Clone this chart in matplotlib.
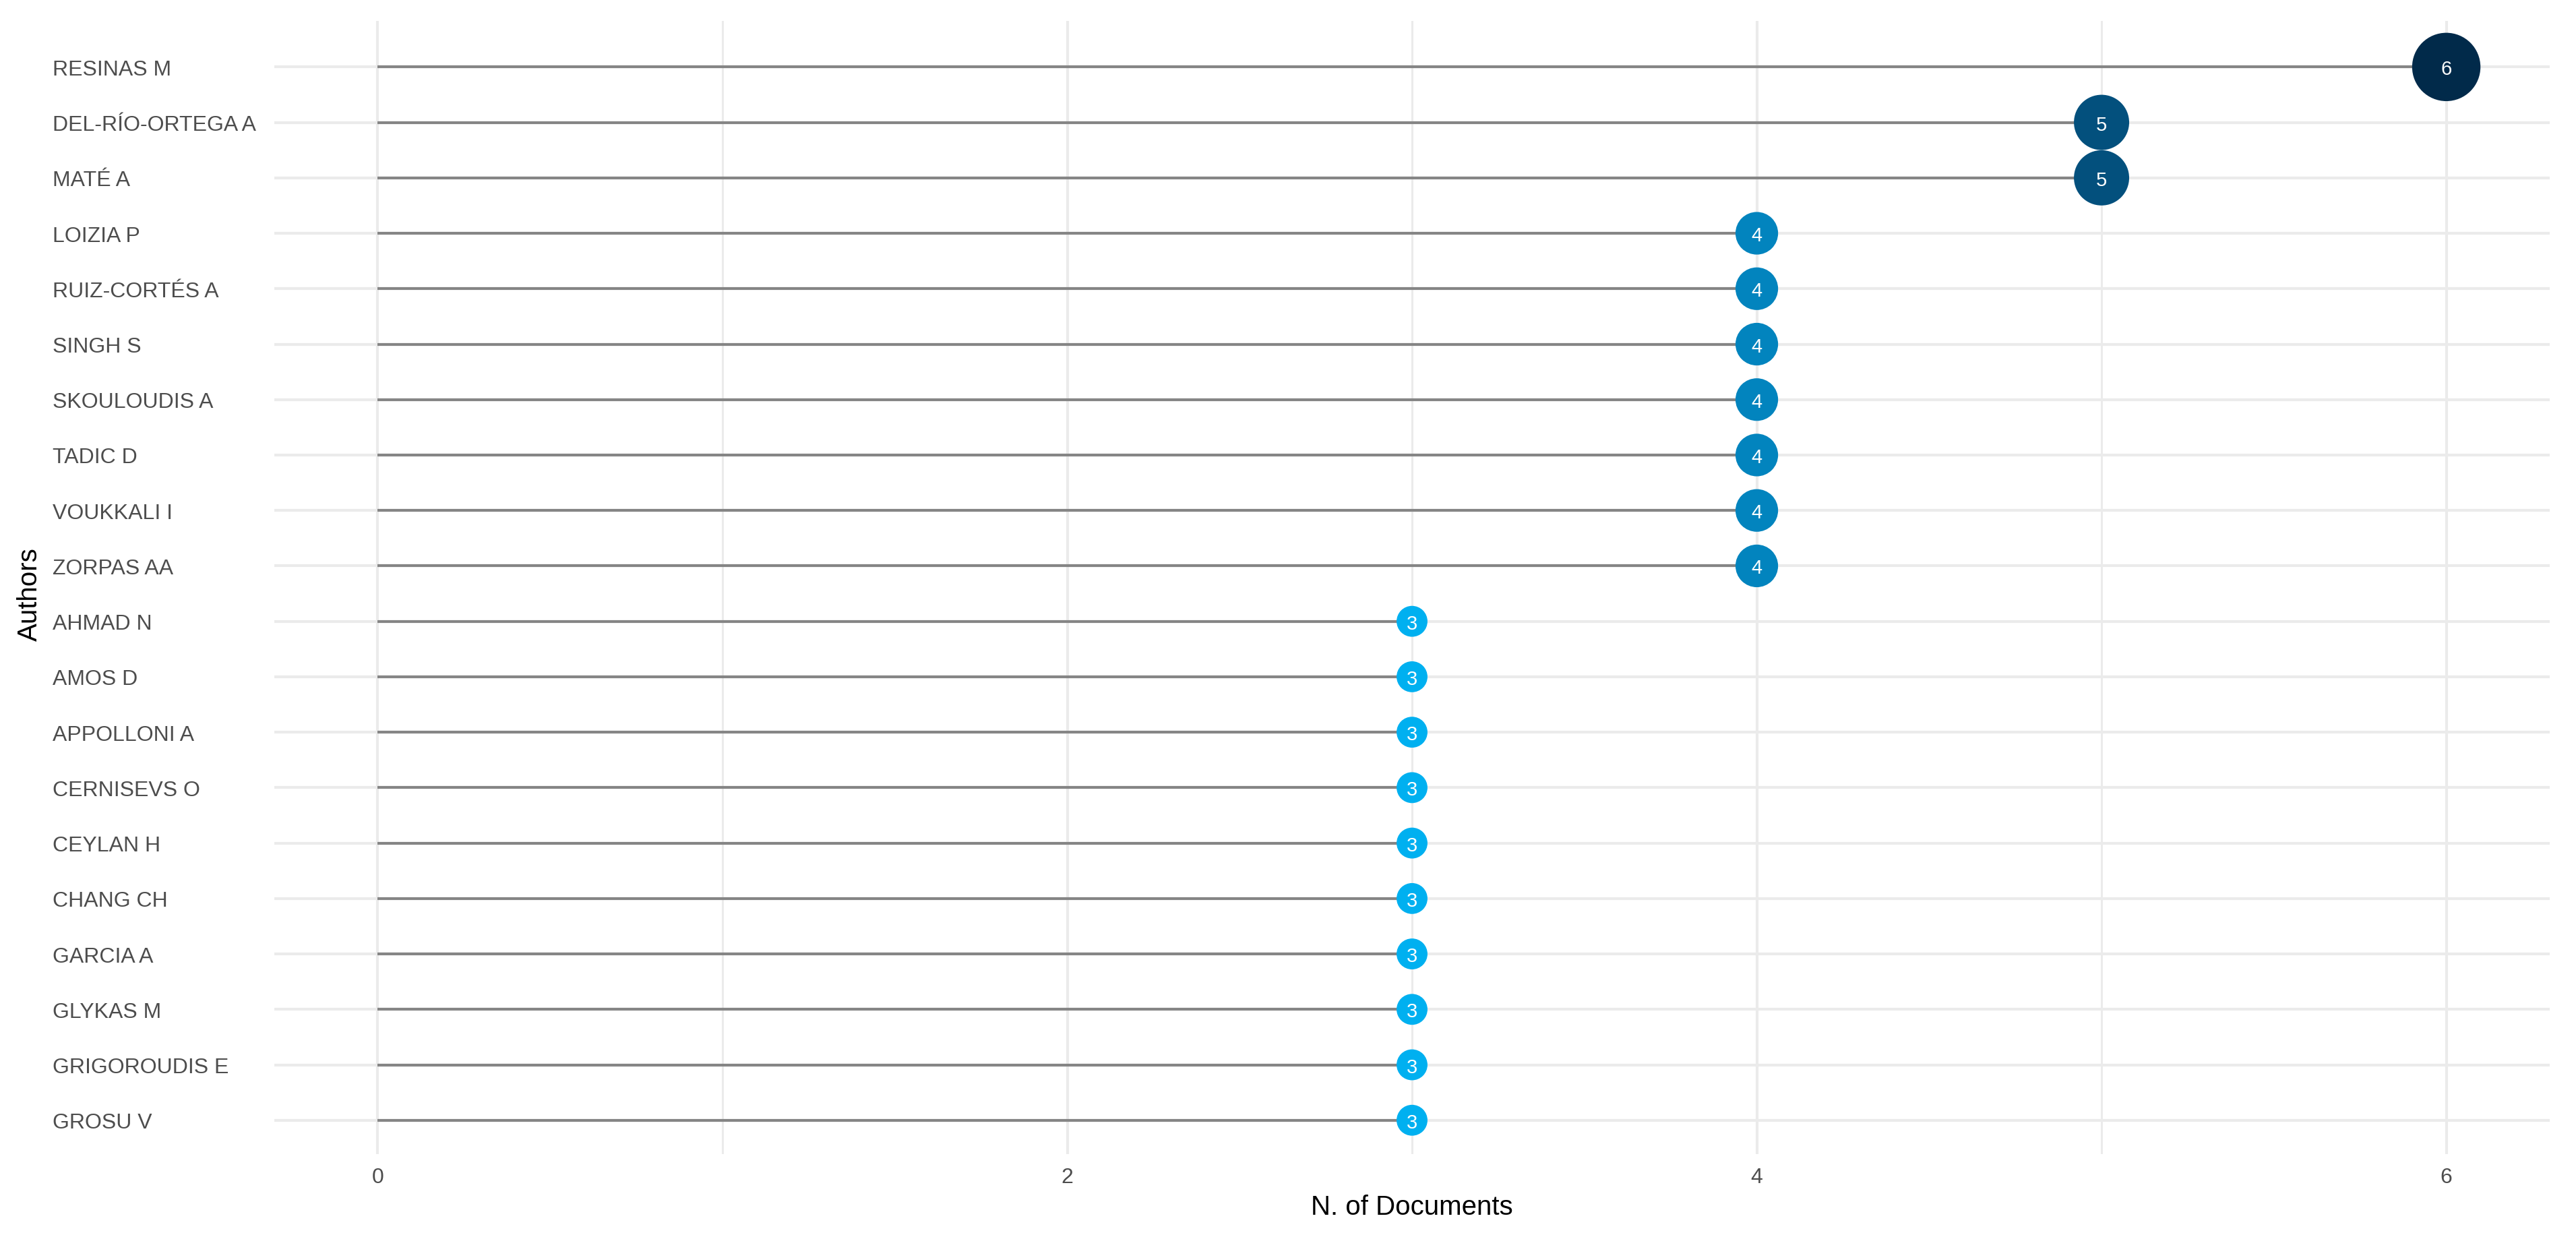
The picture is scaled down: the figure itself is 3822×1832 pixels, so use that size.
import numpy as np
import matplotlib
matplotlib.use("Agg")
import matplotlib.pyplot as plt

# top to bottom as in the reference
authors = ["RESINAS M", "DEL-RÍO-ORTEGA A", "MATÉ A", "LOIZIA P", "RUIZ-CORTÉS A",
           "SINGH S", "SKOULOUDIS A", "TADIC D", "VOUKKALI I", "ZORPAS AA",
           "AHMAD N", "AMOS D", "APPOLLONI A", "CERNISEVS O", "CEYLAN H",
           "CHANG CH", "GARCIA A", "GLYKAS M", "GRIGOROUDIS E", "GROSU V"]
n_docs = [6, 5, 5, 4, 4, 4, 4, 4, 4, 4, 3, 3, 3, 3, 3, 3, 3, 3, 3, 3]
x_ticks = [0, 2, 4, 6]

COLORS = {3: "#00b0f0", 4: "#0284be", 5: "#03507d", 6: "#012a4a"}
DIAM_PT = {3: 33, 4: 45.5, 5: 59, 6: 73}

plt.rcParams["font.family"] = ["Liberation Sans", "DejaVu Sans"]

fig = plt.figure(figsize=(38.22, 18.33), dpi=100)
ax = fig.add_axes([0.1065, 0.0655, 0.8833, 0.917])

y = np.arange(len(authors))
vals = np.array(n_docs)

# grid
grid_c = "#ebebeb"
for t in x_ticks:
    ax.axvline(t, color=grid_c, lw=3.0, zorder=0)
for t in [1, 3, 5]:
    ax.axvline(t, color=grid_c, lw=2.2, zorder=0)
for yy in y:
    ax.axhline(yy, color=grid_c, lw=3.0, zorder=0)

ax.hlines(y, 0, vals, color="#858585", lw=3.0, zorder=1)
sizes = [DIAM_PT[v] ** 2 for v in n_docs]
cols = [COLORS[v] for v in n_docs]
ax.scatter(vals, y, s=sizes, c=cols, edgecolors="none", zorder=2)
for v, yy in zip(vals, y):
    ax.text(v, yy, str(v), color="white", fontsize=21, ha="center",
            va="center_baseline", zorder=3)

ax.set_xlim(-0.3, 6.3)
ax.set_ylim(19.61, -0.83)
ax.set_xticks(x_ticks)
ax.set_xticklabels([str(t) for t in x_ticks])
ax.set_yticks(y)
ax.set_yticklabels(authors)
for lab in ax.get_yticklabels():
    lab.set_ha("left")
ax.tick_params(axis="y", length=0, pad=237, labelsize=23, labelcolor="#4d4d4d")
ax.tick_params(axis="x", length=0, pad=14, labelsize=23, labelcolor="#4d4d4d")
for s in ax.spines.values():
    s.set_visible(False)

ax.set_xlabel("N. of Documents", fontsize=29, color="black", labelpad=7)
fig.text(44 / 3822, 1 - 882 / 1833, "Authors", rotation=90, fontsize=29,
         ha="center", va="center")

fig.savefig("out.png", dpi=100, facecolor="white")
